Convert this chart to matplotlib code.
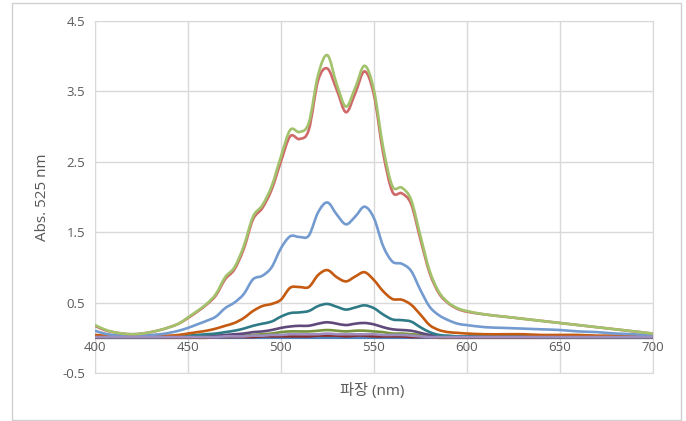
import matplotlib.pyplot as plt
from matplotlib.patches import Rectangle, PathPatch
from matplotlib.path import Path

plt.rcParams['font.family'] = ['Open Sans', 'Noto Sans CJK KR', 'DejaVu Sans']

# wavelength grid (nm)
wl = [400, 405, 410, 415, 420, 425, 430, 435, 440, 445,
      450, 455, 460, 465, 470, 475, 480, 485, 490, 495,
      500, 505, 510, 515, 520, 525, 530, 535, 540, 545,
      550, 555, 560, 565, 570, 575, 580, 585, 590, 595,
      600, 610, 620, 630, 640, 650, 660, 670, 680, 690, 700]

green = [0.18, 0.12, 0.08, 0.06, 0.05, 0.06, 0.08, 0.11, 0.15, 0.20,
         0.29, 0.38, 0.48, 0.62, 0.86, 1.00, 1.30, 1.72, 1.88, 2.15,
         2.57, 2.95, 2.92, 3.05, 3.73, 4.01, 3.60, 3.28, 3.55, 3.86,
         3.52, 2.70, 2.15, 2.13, 1.96, 1.45, 0.95, 0.65, 0.50, 0.42,
         0.38, 0.33, 0.30, 0.27, 0.24, 0.21, 0.18, 0.15, 0.12, 0.09, 0.06]

red = [0.17, 0.11, 0.08, 0.06, 0.05, 0.06, 0.08, 0.11, 0.15, 0.20,
       0.28, 0.37, 0.47, 0.60, 0.83, 0.97, 1.26, 1.68, 1.84, 2.10,
       2.50, 2.86, 2.82, 2.95, 3.65, 3.82, 3.52, 3.20, 3.47, 3.78,
       3.45, 2.62, 2.07, 2.05, 1.90, 1.40, 0.92, 0.63, 0.49, 0.41,
       0.37, 0.33, 0.30, 0.27, 0.24, 0.21, 0.18, 0.15, 0.12, 0.09, 0.06]

blue = [0.10, 0.06, 0.04, 0.03, 0.03, 0.03, 0.04, 0.05, 0.07, 0.10,
        0.14, 0.19, 0.24, 0.30, 0.42, 0.50, 0.62, 0.83, 0.88, 1.00,
        1.27, 1.44, 1.43, 1.45, 1.78, 1.92, 1.75, 1.61, 1.72, 1.86,
        1.70, 1.30, 1.08, 1.05, 0.95, 0.68, 0.44, 0.32, 0.25, 0.20,
        0.18, 0.15, 0.14, 0.13, 0.12, 0.11, 0.09, 0.08, 0.06, 0.05, 0.03]

orange = [0.04, 0.03, 0.02, 0.02, 0.02, 0.02, 0.02, 0.03, 0.03, 0.04,
          0.06, 0.08, 0.10, 0.13, 0.17, 0.21, 0.28, 0.38, 0.45, 0.48,
          0.54, 0.71, 0.72, 0.72, 0.89, 0.96, 0.86, 0.80, 0.87, 0.93,
          0.82, 0.66, 0.55, 0.54, 0.47, 0.33, 0.18, 0.11, 0.08, 0.07,
          0.06, 0.05, 0.05, 0.05, 0.04, 0.04, 0.04, 0.03, 0.03, 0.02, 0.02]

teal = [0.02, 0.01, 0.01, 0.01, 0.01, 0.01, 0.01, 0.01, 0.02, 0.02,
        0.03, 0.04, 0.05, 0.06, 0.08, 0.10, 0.13, 0.17, 0.20, 0.23,
        0.30, 0.35, 0.36, 0.38, 0.45, 0.48, 0.44, 0.40, 0.43, 0.46,
        0.42, 0.33, 0.26, 0.25, 0.23, 0.15, 0.08, 0.04, 0.03, 0.02,
        0.02, 0.02, 0.02, 0.02, 0.01, 0.01, 0.01, 0.01, 0.01, 0.01, 0.01]

purple = [0.01, 0.01, 0.01, 0.01, 0.01, 0.01, 0.01, 0.01, 0.01, 0.01,
          0.01, 0.02, 0.02, 0.03, 0.04, 0.05, 0.06, 0.08, 0.09, 0.11,
          0.14, 0.16, 0.17, 0.17, 0.20, 0.22, 0.20, 0.18, 0.20, 0.21,
          0.19, 0.15, 0.12, 0.11, 0.10, 0.07, 0.04, 0.02, 0.02, 0.01,
          0.01, 0.01, 0.01, 0.01, 0.01, 0.01, 0.01, 0.01, 0.01, 0.01, 0.01]

olive = [0.01, 0.01, 0.01, 0.01, 0.01, 0.01, 0.01, 0.01, 0.01, 0.01,
         0.01, 0.01, 0.01, 0.02, 0.02, 0.03, 0.03, 0.04, 0.05, 0.06,
         0.08, 0.09, 0.09, 0.09, 0.10, 0.11, 0.10, 0.09, 0.10, 0.10,
         0.09, 0.08, 0.06, 0.06, 0.05, 0.04, 0.02, 0.01, 0.01, 0.01,
         0.01, 0.01, 0.01, 0.01, 0.01, 0.01, 0.01, 0.01, 0.01, 0.01, 0.01]

lavender = [0.01, 0.01, 0.01, 0.01, 0.01, 0.01, 0.01, 0.01, 0.01, 0.01,
            0.01, 0.01, 0.01, 0.01, 0.02, 0.02, 0.02, 0.03, 0.03, 0.04,
            0.04, 0.05, 0.05, 0.05, 0.05, 0.06, 0.05, 0.05, 0.05, 0.05,
            0.05, 0.04, 0.04, 0.04, 0.03, 0.02, 0.01, 0.01, 0.01, 0.01,
            0.01, 0.01, 0.01, 0.01, 0.01, 0.01, 0.01, 0.01, 0.01, 0.01, 0.01]

darkred = [0.0, 0.0, 0.0, 0.0, 0.0, 0.0, 0.0, 0.0, 0.0, 0.0,
           0.0, 0.0, 0.0, 0.01, 0.01, 0.01, 0.01, 0.01, 0.02, 0.02,
           0.02, 0.02, 0.02, 0.02, 0.03, 0.03, 0.03, 0.02, 0.03, 0.03,
           0.02, 0.02, 0.02, 0.02, 0.01, 0.01, 0.01, 0.0, 0.0, 0.0,
           0.0, 0.0, 0.0, 0.0, 0.0, 0.0, 0.0, 0.0, 0.0, 0.0, 0.0]

flat = [0.0] * len(wl)

series = [
    (flat, '#4F81BD'),
    (darkred, '#8B2E2E'),
    (olive, '#77933C'),
    (purple, '#5F4A7B'),
    (teal, '#2E7B87'),
    (orange, '#C55A11'),
    (blue, '#739BD0'),
    (red, '#D06A6A'),
    (green, '#A2C26C'),
    (lavender, '#9E8EC0'),
]

x_ticks = [400, 450, 500, 550, 600, 650, 700]
y_ticks = [-0.5, 0.5, 1.5, 2.5, 3.5, 4.5]


def smooth_path(xs, ys):
    # Excel-style smoothed line: cubic Bezier segments through the points
    verts = [(xs[0], ys[0])]
    codes = [Path.MOVETO]
    n = len(xs)
    for i in range(n - 1):
        x0, y0 = (xs[i - 1], ys[i - 1]) if i > 0 else (xs[i], ys[i])
        x1, y1 = xs[i], ys[i]
        x2, y2 = xs[i + 1], ys[i + 1]
        x3, y3 = (xs[i + 2], ys[i + 2]) if i + 2 < n else (x2, y2)
        verts.append((x1 + (x2 - x0) / 6, y1 + (y2 - y0) / 6))
        verts.append((x2 - (x3 - x1) / 6, y2 - (y3 - y1) / 6))
        verts.append((x2, y2))
        codes += [Path.CURVE4] * 3
    return Path(verts, codes)


fig = plt.figure(figsize=(6.86, 4.21), dpi=100)
ax = fig.add_axes([0.1385, 0.114, 0.8130, 0.837])

for vals, col in series:
    ax.add_patch(PathPatch(smooth_path(wl, vals), fill=False, edgecolor=col,
                           lw=1.9, joinstyle='round', zorder=3))

ax.set_xlim(400, 700)
ax.set_ylim(-0.5, 4.5)
ax.set_yticks(y_ticks)
ax.set_yticklabels(['-0.5', '0.5', '1.5', '2.5', '3.5', '4.5'])
ax.set_xticks(x_ticks)
ax.grid(True, color='#D9D9D9', lw=1.0, zorder=0)
for s in ax.spines.values():
    s.set_color('#D9D9D9')

# x tick labels sit next to the zero line
ax.tick_params(axis='x', length=0, labelbottom=False)
for xv in x_ticks:
    ax.text(xv, -0.14, str(xv), ha='center', va='center', fontsize=9.5,
            color='#595959')
ax.tick_params(axis='y', length=0, labelsize=9.5, labelcolor='#595959', pad=7)

ax.set_ylabel('Abs. 525 nm', fontsize=11, color='#595959', labelpad=9)
fig.text(0.542, 0.072, '파장 (nm)', ha='center', va='center', fontsize=11,
         color='#595959')

fig.patches.append(Rectangle((12 / 686, 1 / 421), 669 / 686, 417 / 421,
                             transform=fig.transFigure, fill=False,
                             edgecolor='#D0D0D0', lw=1.0))

fig.savefig('out.png', dpi=100)
